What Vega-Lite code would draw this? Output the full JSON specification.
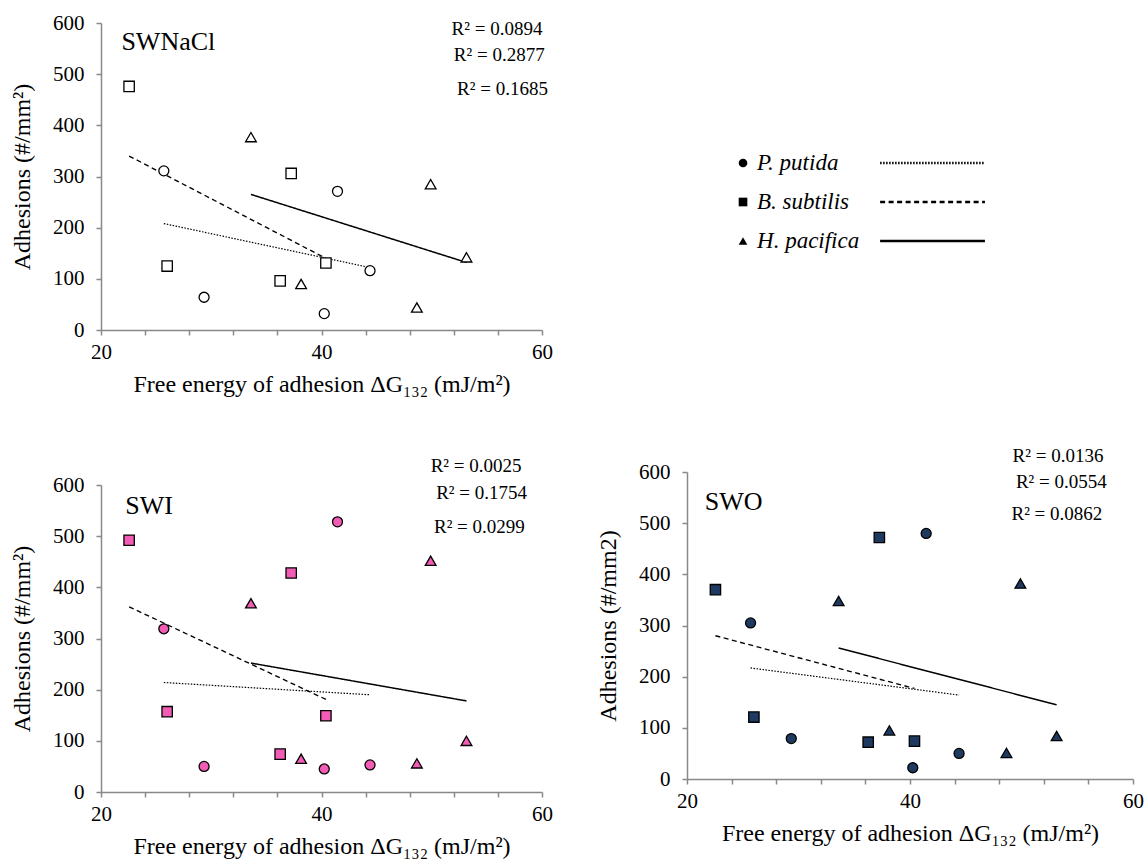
{
  "$schema": "https://vega.github.io/schema/vega-lite/v6.json",
  "padding": {"left": 10, "top": 12, "right": 5, "bottom": 5},
  "background": "white",
  "config": {
    "view": {"stroke": null},
    "font": "Liberation Serif",
    "axis": {"grid": false, "domainColor": "#898989", "domainWidth": 1.5, "tickColor": "#898989", "tickWidth": 1.5, "tickSize": 5, "labelColor": "#000000", "titleFontWeight": "normal", "titleColor": "#000000"}
  },
  "datasets": {
    "points": [
      {"medium": "SWNaCl", "species": "P. putida", "dG": 25.7, "adhesion": 311},
      {"medium": "SWNaCl", "species": "P. putida", "dG": 29.35, "adhesion": 64},
      {"medium": "SWNaCl", "species": "P. putida", "dG": 41.45, "adhesion": 271},
      {"medium": "SWNaCl", "species": "P. putida", "dG": 40.25, "adhesion": 32},
      {"medium": "SWNaCl", "species": "P. putida", "dG": 44.4, "adhesion": 116},
      {"medium": "SWNaCl", "species": "B. subtilis", "dG": 22.55, "adhesion": 476},
      {"medium": "SWNaCl", "species": "B. subtilis", "dG": 26.0, "adhesion": 125},
      {"medium": "SWNaCl", "species": "B. subtilis", "dG": 37.25, "adhesion": 306},
      {"medium": "SWNaCl", "species": "B. subtilis", "dG": 36.25, "adhesion": 96},
      {"medium": "SWNaCl", "species": "B. subtilis", "dG": 40.4, "adhesion": 131},
      {"medium": "SWNaCl", "species": "H. pacifica", "dG": 33.6, "adhesion": 377},
      {"medium": "SWNaCl", "species": "H. pacifica", "dG": 38.15, "adhesion": 90},
      {"medium": "SWNaCl", "species": "H. pacifica", "dG": 49.9, "adhesion": 285},
      {"medium": "SWNaCl", "species": "H. pacifica", "dG": 48.65, "adhesion": 44},
      {"medium": "SWNaCl", "species": "H. pacifica", "dG": 53.15, "adhesion": 142},
      {"medium": "SWI", "species": "P. putida", "dG": 25.7, "adhesion": 319},
      {"medium": "SWI", "species": "P. putida", "dG": 29.35, "adhesion": 50},
      {"medium": "SWI", "species": "P. putida", "dG": 41.45, "adhesion": 528},
      {"medium": "SWI", "species": "P. putida", "dG": 40.25, "adhesion": 45},
      {"medium": "SWI", "species": "P. putida", "dG": 44.4, "adhesion": 53},
      {"medium": "SWI", "species": "B. subtilis", "dG": 22.55, "adhesion": 492},
      {"medium": "SWI", "species": "B. subtilis", "dG": 26.0, "adhesion": 157},
      {"medium": "SWI", "species": "B. subtilis", "dG": 37.25, "adhesion": 428},
      {"medium": "SWI", "species": "B. subtilis", "dG": 36.25, "adhesion": 74},
      {"medium": "SWI", "species": "B. subtilis", "dG": 40.4, "adhesion": 149},
      {"medium": "SWI", "species": "H. pacifica", "dG": 33.6, "adhesion": 369},
      {"medium": "SWI", "species": "H. pacifica", "dG": 38.15, "adhesion": 65},
      {"medium": "SWI", "species": "H. pacifica", "dG": 49.9, "adhesion": 452},
      {"medium": "SWI", "species": "H. pacifica", "dG": 48.65, "adhesion": 56},
      {"medium": "SWI", "species": "H. pacifica", "dG": 53.15, "adhesion": 100},
      {"medium": "SWO", "species": "P. putida", "dG": 25.7, "adhesion": 305},
      {"medium": "SWO", "species": "P. putida", "dG": 29.35, "adhesion": 79},
      {"medium": "SWO", "species": "P. putida", "dG": 41.45, "adhesion": 480},
      {"medium": "SWO", "species": "P. putida", "dG": 40.25, "adhesion": 22},
      {"medium": "SWO", "species": "P. putida", "dG": 44.4, "adhesion": 50},
      {"medium": "SWO", "species": "B. subtilis", "dG": 22.55, "adhesion": 370},
      {"medium": "SWO", "species": "B. subtilis", "dG": 26.0, "adhesion": 121},
      {"medium": "SWO", "species": "B. subtilis", "dG": 37.25, "adhesion": 472},
      {"medium": "SWO", "species": "B. subtilis", "dG": 36.25, "adhesion": 72},
      {"medium": "SWO", "species": "B. subtilis", "dG": 40.4, "adhesion": 74},
      {"medium": "SWO", "species": "H. pacifica", "dG": 33.6, "adhesion": 348},
      {"medium": "SWO", "species": "H. pacifica", "dG": 38.15, "adhesion": 95},
      {"medium": "SWO", "species": "H. pacifica", "dG": 49.9, "adhesion": 382},
      {"medium": "SWO", "species": "H. pacifica", "dG": 48.65, "adhesion": 51},
      {"medium": "SWO", "species": "H. pacifica", "dG": 53.15, "adhesion": 84}
    ],
    "trends": [
      {"medium": "SWNaCl", "species": "P. putida", "dG": 25.7, "adhesion": 208},
      {"medium": "SWNaCl", "species": "P. putida", "dG": 44.4, "adhesion": 122},
      {"medium": "SWNaCl", "species": "B. subtilis", "dG": 22.55, "adhesion": 340},
      {"medium": "SWNaCl", "species": "B. subtilis", "dG": 40.4, "adhesion": 140},
      {"medium": "SWNaCl", "species": "H. pacifica", "dG": 33.6, "adhesion": 265},
      {"medium": "SWNaCl", "species": "H. pacifica", "dG": 53.15, "adhesion": 132},
      {"medium": "SWI", "species": "P. putida", "dG": 25.7, "adhesion": 214},
      {"medium": "SWI", "species": "P. putida", "dG": 44.4, "adhesion": 190},
      {"medium": "SWI", "species": "B. subtilis", "dG": 22.55, "adhesion": 362},
      {"medium": "SWI", "species": "B. subtilis", "dG": 40.4, "adhesion": 181},
      {"medium": "SWI", "species": "H. pacifica", "dG": 33.6, "adhesion": 252},
      {"medium": "SWI", "species": "H. pacifica", "dG": 53.15, "adhesion": 178},
      {"medium": "SWO", "species": "P. putida", "dG": 25.7, "adhesion": 217},
      {"medium": "SWO", "species": "P. putida", "dG": 44.4, "adhesion": 164},
      {"medium": "SWO", "species": "B. subtilis", "dG": 22.55, "adhesion": 280},
      {"medium": "SWO", "species": "B. subtilis", "dG": 40.4, "adhesion": 177},
      {"medium": "SWO", "species": "H. pacifica", "dG": 33.6, "adhesion": 256},
      {"medium": "SWO", "species": "H. pacifica", "dG": 53.15, "adhesion": 145}
    ],
    "labels": [
      {"medium": "SWNaCl", "kind": "title", "text": "SWNaCl", "dG": 21.85, "adhesion": 547},
      {"medium": "SWNaCl", "kind": "r2", "text": "R² = 0.0894", "dG": 51.8, "adhesion": 577},
      {"medium": "SWNaCl", "kind": "r2", "text": "R² = 0.2877", "dG": 52.0, "adhesion": 525},
      {"medium": "SWNaCl", "kind": "r2", "text": "R² = 0.1685", "dG": 52.3, "adhesion": 459},
      {"medium": "SWI", "kind": "title", "text": "SWI", "dG": 22.2, "adhesion": 543},
      {"medium": "SWI", "kind": "r2", "text": "R² = 0.0025", "dG": 49.9, "adhesion": 626},
      {"medium": "SWI", "kind": "r2", "text": "R² = 0.1754", "dG": 50.4, "adhesion": 572},
      {"medium": "SWI", "kind": "r2", "text": "R² = 0.0299", "dG": 50.2, "adhesion": 507},
      {"medium": "SWO", "kind": "title", "text": "SWO", "dG": 21.6, "adhesion": 525},
      {"medium": "SWO", "kind": "r2", "text": "R² = 0.0136", "dG": 49.2, "adhesion": 619},
      {"medium": "SWO", "kind": "r2", "text": "R² = 0.0554", "dG": 49.5, "adhesion": 568},
      {"medium": "SWO", "kind": "r2", "text": "R² = 0.0862", "dG": 49.1, "adhesion": 506}
    ],
    "legend": [
      {"species": "P. putida"},
      {"species": "B. subtilis"},
      {"species": "H. pacifica"}
    ]
  },
  "columns": 2,
  "align": "none",
  "bounds": "flush",
  "spacing": {"row": 142, "column": 145},
  "concat": [
    {
      "width": 441, "height": 307,
      "layer": [
        {
          "data": {"name": "trends"},
          "transform": [{"filter": "datum.medium === 'SWNaCl'"}],
          "mark": {"type": "line", "color": "black"},
          "encoding": {
            "x": {"field": "dG", "type": "quantitative", "scale": {"domain": [20, 60]}, "axis": {"title": "Free energy of adhesion  ΔG₁₃₂ (mJ/m²)", "labelFont": "Liberation Serif", "titleFont": "Liberation Serif", "labelFontSize": 21, "titleFontSize": 24, "values": [20,22,24,26,28,30,32,34,36,38,40,42,44,46,48,50,52,54,56,58,60], "labelExpr": "datum.value % 10 === 0 ? datum.label : ''", "labelFlush": false, "labelOverlap": false, "labelPadding": 6, "titlePadding": 10}},
            "y": {"field": "adhesion", "type": "quantitative", "scale": {"domain": [0, 600]}, "axis": {"title": "Adhesions (#/mm²)", "labelFont": "Liberation Serif", "titleFont": "Liberation Serif", "labelFontSize": 21, "titleFontSize": 24, "values": [0,100,200,300,400,500,600], "labelPadding": 12, "titlePadding": 18}},
            "detail": {"field": "species"},
            "strokeDash": {"field": "species", "type": "nominal", "scale": {"domain": ["P. putida", "B. subtilis", "H. pacifica"], "range": [[1.5, 1.5], [5, 3.5], [1, 0]]}, "legend": null},
            "strokeWidth": {"field": "species", "type": "nominal", "scale": {"domain": ["P. putida", "B. subtilis", "H. pacifica"], "range": [1.2, 1.5, 1.6]}, "legend": null}
          }
        },
        {
          "data": {"name": "points"},
          "transform": [{"filter": "datum.medium === 'SWNaCl'"}],
          "mark": {"type": "point", "filled": true, "fill": "white", "stroke": "black", "strokeWidth": 1.3, "opacity": 1},
          "encoding": {
            "x": {"field": "dG", "type": "quantitative"},
            "y": {"field": "adhesion", "type": "quantitative"},
            "shape": {"field": "species", "type": "nominal", "scale": {"domain": ["P. putida", "B. subtilis", "H. pacifica"], "range": ["circle", "square", "triangle-up"]}, "legend": null},
            "size": {"field": "species", "type": "nominal", "scale": {"domain": ["P. putida", "B. subtilis", "H. pacifica"], "range": [100, 115, 125]}, "legend": null}
          }
        },
        {
          "data": {"name": "labels"},
          "transform": [{"filter": "datum.medium === 'SWNaCl' && datum.kind === 'r2'"}],
          "mark": {"type": "text", "align": "left", "baseline": "alphabetic", "font": "Liberation Serif", "fontSize": 19, "color": "black"},
          "encoding": {"x": {"field": "dG", "type": "quantitative"}, "y": {"field": "adhesion", "type": "quantitative"}, "text": {"field": "text"}}
        },
        {
          "data": {"name": "labels"},
          "transform": [{"filter": "datum.medium === 'SWNaCl' && datum.kind === 'title'"}],
          "mark": {"type": "text", "align": "left", "baseline": "alphabetic", "font": "Liberation Serif", "fontSize": 26, "color": "black"},
          "encoding": {"x": {"field": "dG", "type": "quantitative"}, "y": {"field": "adhesion", "type": "quantitative"}, "text": {"field": "text"}}
        }
      ]
    },
    {
      "width": 446, "height": 293,
      "data": {"name": "legend"},
      "layer": [
        {
          "mark": {"type": "point", "filled": true, "color": "black", "opacity": 1},
          "encoding": {
            "x": {"datum": 12.56, "type": "quantitative", "scale": {"domain": [0, 100]}, "axis": null},
            "y": {"field": "species", "type": "nominal", "sort": null, "scale": {"type": "point", "padding": 0, "domain": ["P. putida", "B. subtilis", "H. pacifica"], "range": [140, 218]}, "axis": null},
            "shape": {"field": "species", "type": "nominal", "scale": {"domain": ["P. putida", "B. subtilis", "H. pacifica"], "range": ["circle", "square", "triangle-up"]}, "legend": null},
            "size": {"value": 75}
          }
        },
        {
          "mark": {"type": "text", "align": "left", "baseline": "middle", "font": "Liberation Serif", "fontStyle": "italic", "fontSize": 23, "color": "black"},
          "encoding": {
            "x": {"datum": 15.7, "type": "quantitative"},
            "y": {"field": "species", "type": "nominal"},
            "text": {"field": "species"}
          }
        },
        {
          "mark": {"type": "rule", "color": "black", "strokeWidth": 2.6},
          "encoding": {
            "x": {"datum": 43.3, "type": "quantitative"},
            "x2": {"datum": 66.8},
            "y": {"field": "species", "type": "nominal"},
            "strokeDash": {"field": "species", "type": "nominal", "scale": {"domain": ["P. putida", "B. subtilis", "H. pacifica"], "range": [[2, 1.5], [7, 5], [1, 0]]}, "legend": null}
          }
        }
      ]
    },
    {
      "width": 441, "height": 320,
      "layer": [
        {
          "data": {"name": "trends"},
          "transform": [{"filter": "datum.medium === 'SWI'"}],
          "mark": {"type": "line", "color": "black"},
          "encoding": {
            "x": {"field": "dG", "type": "quantitative", "scale": {"domain": [20, 60]}, "axis": {"title": "Free energy of adhesion  ΔG₁₃₂ (mJ/m²)", "labelFont": "Liberation Serif", "titleFont": "Liberation Serif", "labelFontSize": 21, "titleFontSize": 24, "values": [20,22,24,26,28,30,32,34,36,38,40,42,44,46,48,50,52,54,56,58,60], "labelExpr": "datum.value % 10 === 0 ? datum.label : ''", "labelFlush": false, "labelOverlap": false, "labelPadding": 6, "titlePadding": 10}},
            "y": {"field": "adhesion", "type": "quantitative", "scale": {"domain": [0, 600], "range": [320, 13]}, "axis": {"title": "Adhesions (#/mm²)", "labelFont": "Liberation Serif", "titleFont": "Liberation Serif", "labelFontSize": 21, "titleFontSize": 24, "values": [0,100,200,300,400,500,600], "labelPadding": 12, "titlePadding": 18}},
            "detail": {"field": "species"},
            "strokeDash": {"field": "species", "type": "nominal", "scale": {"domain": ["P. putida", "B. subtilis", "H. pacifica"], "range": [[1.5, 1.5], [5, 3.5], [1, 0]]}, "legend": null},
            "strokeWidth": {"field": "species", "type": "nominal", "scale": {"domain": ["P. putida", "B. subtilis", "H. pacifica"], "range": [1.2, 1.5, 1.6]}, "legend": null}
          }
        },
        {
          "data": {"name": "points"},
          "transform": [{"filter": "datum.medium === 'SWI'"}],
          "mark": {"type": "point", "filled": true, "fill": "#F25CB5", "stroke": "black", "strokeWidth": 1.3, "opacity": 1},
          "encoding": {
            "x": {"field": "dG", "type": "quantitative"},
            "y": {"field": "adhesion", "type": "quantitative"},
            "shape": {"field": "species", "type": "nominal", "scale": {"domain": ["P. putida", "B. subtilis", "H. pacifica"], "range": ["circle", "square", "triangle-up"]}, "legend": null},
            "size": {"field": "species", "type": "nominal", "scale": {"domain": ["P. putida", "B. subtilis", "H. pacifica"], "range": [100, 115, 125]}, "legend": null}
          }
        },
        {
          "data": {"name": "labels"},
          "transform": [{"filter": "datum.medium === 'SWI' && datum.kind === 'r2'"}],
          "mark": {"type": "text", "align": "left", "baseline": "alphabetic", "font": "Liberation Serif", "fontSize": 19, "color": "black"},
          "encoding": {"x": {"field": "dG", "type": "quantitative"}, "y": {"field": "adhesion", "type": "quantitative"}, "text": {"field": "text"}}
        },
        {
          "data": {"name": "labels"},
          "transform": [{"filter": "datum.medium === 'SWI' && datum.kind === 'title'"}],
          "mark": {"type": "text", "align": "left", "baseline": "alphabetic", "font": "Liberation Serif", "fontSize": 26, "color": "black"},
          "encoding": {"x": {"field": "dG", "type": "quantitative"}, "y": {"field": "adhesion", "type": "quantitative"}, "text": {"field": "text"}}
        }
      ]
    },
    {
      "width": 446, "height": 307,
      "layer": [
        {
          "data": {"name": "trends"},
          "transform": [{"filter": "datum.medium === 'SWO'"}],
          "mark": {"type": "line", "color": "black"},
          "encoding": {
            "x": {"field": "dG", "type": "quantitative", "scale": {"domain": [20, 60]}, "axis": {"title": "Free energy of adhesion  ΔG₁₃₂ (mJ/m²)", "labelFont": "Liberation Serif", "titleFont": "Liberation Serif", "labelFontSize": 21, "titleFontSize": 24, "values": [20,22,24,26,28,30,32,34,36,38,40,42,44,46,48,50,52,54,56,58,60], "labelExpr": "datum.value % 10 === 0 ? datum.label : ''", "labelFlush": false, "labelOverlap": false, "labelPadding": 6, "titlePadding": 10}},
            "y": {"field": "adhesion", "type": "quantitative", "scale": {"domain": [0, 600]}, "axis": {"title": "Adhesions (#/mm2)", "labelFont": "Liberation Serif", "titleFont": "Liberation Serif", "labelFontSize": 21, "titleFontSize": 24, "values": [0,100,200,300,400,500,600], "labelPadding": 12, "titlePadding": 18}},
            "detail": {"field": "species"},
            "strokeDash": {"field": "species", "type": "nominal", "scale": {"domain": ["P. putida", "B. subtilis", "H. pacifica"], "range": [[1.5, 1.5], [5, 3.5], [1, 0]]}, "legend": null},
            "strokeWidth": {"field": "species", "type": "nominal", "scale": {"domain": ["P. putida", "B. subtilis", "H. pacifica"], "range": [1.2, 1.5, 1.6]}, "legend": null}
          }
        },
        {
          "data": {"name": "points"},
          "transform": [{"filter": "datum.medium === 'SWO'"}],
          "mark": {"type": "point", "filled": true, "fill": "#1F3A60", "stroke": "black", "strokeWidth": 1.3, "opacity": 1},
          "encoding": {
            "x": {"field": "dG", "type": "quantitative"},
            "y": {"field": "adhesion", "type": "quantitative"},
            "shape": {"field": "species", "type": "nominal", "scale": {"domain": ["P. putida", "B. subtilis", "H. pacifica"], "range": ["circle", "square", "triangle-up"]}, "legend": null},
            "size": {"field": "species", "type": "nominal", "scale": {"domain": ["P. putida", "B. subtilis", "H. pacifica"], "range": [100, 115, 125]}, "legend": null}
          }
        },
        {
          "data": {"name": "labels"},
          "transform": [{"filter": "datum.medium === 'SWO' && datum.kind === 'r2'"}],
          "mark": {"type": "text", "align": "left", "baseline": "alphabetic", "font": "Liberation Serif", "fontSize": 19, "color": "black"},
          "encoding": {"x": {"field": "dG", "type": "quantitative"}, "y": {"field": "adhesion", "type": "quantitative"}, "text": {"field": "text"}}
        },
        {
          "data": {"name": "labels"},
          "transform": [{"filter": "datum.medium === 'SWO' && datum.kind === 'title'"}],
          "mark": {"type": "text", "align": "left", "baseline": "alphabetic", "font": "Liberation Serif", "fontSize": 26, "color": "black"},
          "encoding": {"x": {"field": "dG", "type": "quantitative"}, "y": {"field": "adhesion", "type": "quantitative"}, "text": {"field": "text"}}
        }
      ]
    }
  ]
}
